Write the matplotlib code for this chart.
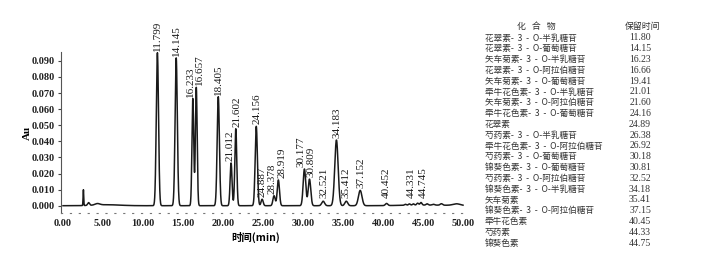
import numpy as np
import matplotlib
matplotlib.use("Agg")
import matplotlib.pyplot as plt

# labelled peaks: retention time (min), printed label, height (Au), width (sigma, min)
peak_times = [11.80, 14.15, 16.23, 16.66, 19.41, 21.01, 21.60, 24.16, 24.89, 26.38,
              26.92, 30.18, 30.81, 32.52, 34.18, 35.41, 37.15, 40.45, 44.33, 44.75]
peak_labels = ["11.799", "14.145", "16.233", "16.657", "18.405", "21.012", "21.602",
               "24.156", "24.887", "28.378", "28.919", "30.177", "30.809", "32.521",
               "34.183", "35.412", "37.152", "40.452", "44.331", "44.745"]
peak_heights = [0.0950, 0.0918, 0.0665, 0.0735, 0.0677, 0.0265, 0.0478, 0.0493, 0.0040, 0.0062,
                0.0160, 0.0228, 0.0165, 0.0028, 0.0408, 0.0028, 0.0095, 0.0013, 0.0012, 0.0016]
peak_sigma = [0.14, 0.14, 0.11, 0.11, 0.14, 0.12, 0.12, 0.14, 0.13, 0.14,
              0.14, 0.16, 0.16, 0.18, 0.21, 0.18, 0.22, 0.15, 0.12, 0.12]
# small unlabelled peaks and baseline humps
minor_times = [2.55, 3.2, 4.3, 5.5, 42.8, 43.3, 43.8, 45.5, 46.3, 47.3, 49.2, 45.5]
minor_heights = [0.0098, 0.0017, 0.0009, 0.0006, 0.0006, 0.0008, 0.0008, 0.0008, 0.0005, 0.0009, 0.0010, 0.0004]
minor_sigma = [0.04, 0.12, 0.3, 1.6, 0.12, 0.12, 0.12, 0.12, 0.15, 0.15, 0.45, 3.0]

# compound table
compounds = ["花翠素-  3  -  O-半乳糖苷", "花翠素-  3  -  O-葡萄糖苷", "矢车菊素-  3  -  O-半乳糖苷",
             "花翠素-  3  -  O-阿拉伯糖苷", "矢车菊素-  3  -  O-葡萄糖苷", "牵牛花色素-  3  -  O-半乳糖苷",
             "矢车菊素-  3  -  O-阿拉伯糖苷", "牵牛花色素-  3  -  O-葡萄糖苷", "花翠素",
             "芍药素-  3  -  O-半乳糖苷", "牵牛花色素-  3  -  O-阿拉伯糖苷", "芍药素-  3  -  O-葡萄糖苷",
             "锦葵色素-  3  -  O-葡萄糖苷", "芍药素-  3  -  O-阿拉伯糖苷", "锦葵色素-  3  -  O-半乳糖苷",
             "矢车菊素", "锦葵色素-  3  -  O-阿拉伯糖苷", "牵牛花色素", "芍药素", "锦葵色素"]
ret_times = ["11.80", "14.15", "16.23", "16.66", "19.41", "21.01", "21.60", "24.16", "24.89", "26.38",
             "26.92", "30.18", "30.81", "32.52", "34.18", "35.41", "37.15", "40.45", "44.33", "44.75"]

# label nudges (min) so the printed labels sit like in the figure
label_dx = [-0.05, 0.05, -0.25, 0.35, 0.05, -0.15, 0.1, 0.05, 0.0, -0.3,
            0.5, -0.45, 0.15, 0.15, 0.1, 0.0, 0.15, 0.0, -0.75, 0.25]

t = np.linspace(0, 50, 5001)
y = np.zeros_like(t)
for c, h, s in zip(peak_times + minor_times, peak_heights + minor_heights, peak_sigma + minor_sigma):
    y += h * np.exp(-0.5 * ((t - c) / s) ** 2)

serif = "Liberation Serif"
fig = plt.figure(figsize=(7.1, 2.54), dpi=100)
ax = fig.add_axes([61 / 710, 41 / 254, 406 / 710, 161 / 254])
ax.plot(t, y, color="#1a1a1a", lw=1.1)
ax.set_xlim(-0.25, 50.5)
ax.set_ylim(-0.00453, 0.09547)

for c, dx, h, lab in zip(peak_times, label_dx, peak_heights, peak_labels):
    ax.text(c + dx, max(h + 0.0012, 0.0045), lab, rotation=90, ha="center", va="bottom",
            fontsize=8, family=serif, color="#1a1a1a", clip_on=False)

ax.set_xticks(np.arange(0, 51, 5))
ax.set_xticklabels([f"{v:.2f}" for v in np.arange(0, 51, 5)])
ax.set_yticks(np.arange(0, 0.0905, 0.01))
ax.set_yticklabels([f"{v:.3f}" for v in np.arange(0, 0.0905, 0.01)])
for lab in ax.get_xticklabels() + ax.get_yticklabels():
    lab.set_family(serif)
    lab.set_fontweight("bold")
    lab.set_fontsize(7.5)
    lab.set_color("#222222")
ax.tick_params(axis="y", length=2, width=0.8, pad=2.5, color="#444444")
ax.tick_params(axis="x", length=0, pad=4)

for s in ["top", "right"]:
    ax.spines[s].set_visible(False)
ax.spines["left"].set_linestyle((0, (1, 1)))
ax.spines["left"].set_color("#555555")
ax.spines["bottom"].set_linestyle((0, (1, 7)))
ax.spines["bottom"].set_color("#777777")

ax.set_ylabel("Au", family=serif, fontweight="bold", fontsize=8, labelpad=0)
ax.set_xlabel("时间(min)", family=["Noto Sans CJK SC", "DejaVu Sans"], fontweight="bold",
              fontsize=7.5, labelpad=2)
ax.xaxis.set_label_coords(0.48, -0.12)

# table on the right
cjk = ["Noto Sans CJK SC", "DejaVu Sans"]
fig.text(536 / 710, 1 - 26 / 254, "化   合   物", family=cjk, fontsize=6.4, ha="center", va="center", color="#333333")
fig.text(625 / 710, 1 - 26 / 254, "保留时间", family=cjk, fontsize=6.4, ha="left", va="center", color="#333333")
for i, (name, rt) in enumerate(zip(compounds, ret_times)):
    yy = 1 - (38 + i * 10.8) / 254
    fig.text(485 / 710, yy, name, family=cjk, fontsize=6.2, ha="left", va="center", color="#333333")
    fig.text(651 / 710, yy, rt, family=serif, fontsize=7, ha="right", va="center", color="#333333")

fig.savefig("out.png", dpi=100)
